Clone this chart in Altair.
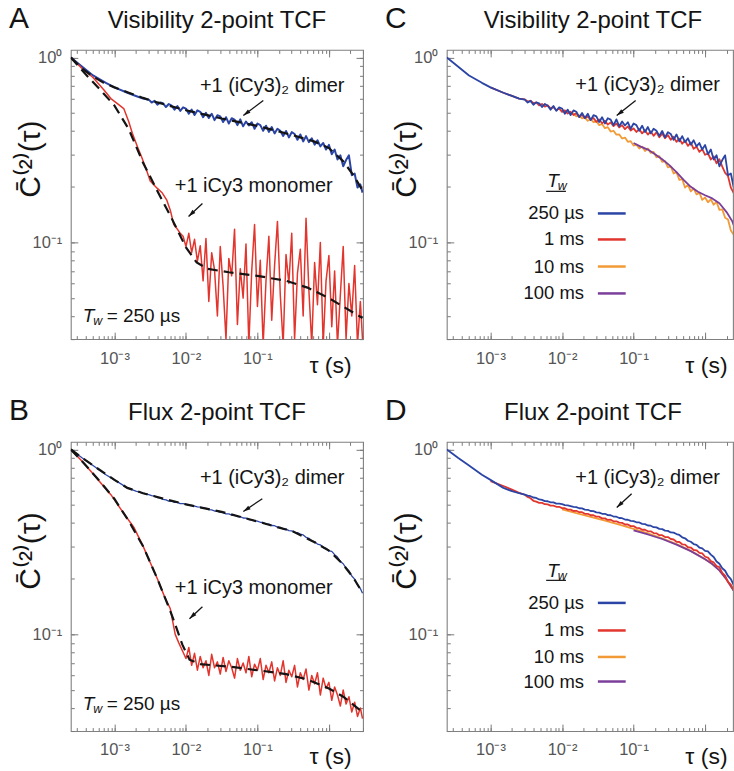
import altair as alt
import pandas as pd

FONT = "Liberation Sans"
INK = "#141414"
FRAME = "#808080"
TICK = "#7a7a7a"
LABEL = "#555555"
BLUE = "#2b45a6"
RED = "#e2352d"
ORANGE = "#f29b36"
PURPLE = "#7b3f9a"

SERIES = ["250 µs", "1 ms", "10 ms", "100 ms", "+1 (iCy3)₂ dimer", "+1 iCy3 monomer"]
SERIES_COLORS = [BLUE, RED, ORANGE, PURPLE, BLUE, RED]

X_DOMAIN_LEFT = [2.45e-4, 3.0]      # panels A, B
X_DOMAIN_RIGHT = [2.45e-4, 2.455]   # panels C, D (cut by the page edge)
Y_DOMAIN = [0.03, 1.1]
X_TICKS = [0.0003, 0.0004, 0.0005, 0.0006, 0.0007, 0.0008, 0.0009,
           0.001, 0.002, 0.003, 0.004, 0.005, 0.006, 0.007, 0.008, 0.009,
           0.01, 0.02, 0.03, 0.04, 0.05, 0.06, 0.07, 0.08, 0.09,
           0.1, 0.2, 0.3, 0.4, 0.5, 0.6, 0.7, 0.8, 0.9, 1.0, 2.0, 3.0]
X_MAJOR = [0.001, 0.01, 0.1, 1.0]
Y_TICKS = [0.03, 0.04, 0.05, 0.06, 0.07, 0.08, 0.09,
           0.1, 0.2, 0.3, 0.4, 0.5, 0.6, 0.7, 0.8, 0.9, 1.0]
Y_MAJOR = [0.1, 1.0]
X_LABELS = "datum.value == 0.001 ? '10⁻³' : datum.value == 0.01 ? '10⁻²' : datum.value == 0.1 ? '10⁻¹' : ''"
Y_LABELS = "datum.value == 1 ? '10⁰' : datum.value == 0.1 ? '10⁻¹' : ''"

# log10(tau) grid of the densely sampled part of every trace
LATE = [-2.52, -2.48, -2.44, -2.40, -2.36, -2.32, -2.28, -2.24, -2.20, -2.16,
        -2.12, -2.08, -2.04, -2.00, -1.96, -1.92, -1.88, -1.84, -1.80, -1.76,
        -1.72, -1.68, -1.64, -1.60, -1.56, -1.52, -1.48, -1.44, -1.40, -1.36,
        -1.32, -1.28, -1.24, -1.20, -1.16, -1.12, -1.08, -1.04, -1.00, -0.96,
        -0.92, -0.88, -0.84, -0.80, -0.76, -0.72, -0.68, -0.64, -0.60, -0.56,
        -0.52, -0.48, -0.44, -0.40, -0.36, -0.32, -0.28, -0.24, -0.20, -0.16,
        -0.12, -0.08, -0.04, 0.00, 0.04, 0.08, 0.12, 0.16, 0.20, 0.24,
        0.28, 0.32, 0.36, 0.40, 0.44, 0.47]

# ---------- visibility TCF, Tw = 250 us (panel A, blue also in C) ----------
VIS_DIMER_EARLY_LOG = [-3.61, -3.30, -3.12, -3.00, -2.82, -2.70, -2.60]
VIS_DIMER_EARLY = [1.00, 0.80, 0.73, 0.69, 0.645, 0.62, 0.60]
VIS_DIMER_LATE = [0.592, 0.571, 0.583, 0.556, 0.572, 0.566, 0.540, 0.561, 0.549, 0.522,
                  0.547, 0.515, 0.538, 0.530, 0.497, 0.523, 0.489, 0.518, 0.509, 0.476,
                  0.502, 0.471, 0.497, 0.459, 0.488, 0.481, 0.448, 0.476, 0.440, 0.470,
                  0.462, 0.431, 0.463, 0.425, 0.451, 0.429, 0.447, 0.412, 0.440, 0.431,
                  0.402, 0.428, 0.396, 0.421, 0.389, 0.412, 0.402, 0.377, 0.401, 0.370,
                  0.395, 0.386, 0.359, 0.384, 0.352, 0.376, 0.349, 0.366, 0.338, 0.357,
                  0.331, 0.345, 0.318, 0.337, 0.300, 0.318, 0.281, 0.296, 0.258, 0.279,
                  0.296, 0.231, 0.236, 0.198, 0.206, 0.186]
VIS_MONO_EARLY_LOG = [-3.61, -3.45, -3.30, -3.15, -3.05, -2.95, -2.87, -2.80, -2.75, -2.68,
                      -2.62, -2.55, -2.50, -2.45, -2.40, -2.33, -2.27, -2.22, -2.17, -2.12, -2.08]
VIS_MONO_EARLY = [1.00, 0.87, 0.78, 0.67, 0.60, 0.56, 0.53, 0.45, 0.39, 0.33,
                  0.29, 0.245, 0.215, 0.205, 0.196, 0.185, 0.170, 0.150, 0.125, 0.118, 0.112]
VIS_MONO_LATE = [0.108, 0.095, 0.112, 0.088, 0.104, 0.079, 0.096, 0.062, 0.105, 0.048,
                 0.088, 0.071, 0.040, 0.095, 0.058, 0.030, 0.082, 0.066, 0.118, 0.036,
                 0.072, 0.050, 0.098, 0.028, 0.070, 0.125, 0.045, 0.080, 0.028, 0.062,
                 0.108, 0.038, 0.075, 0.130, 0.052, 0.028, 0.086, 0.060, 0.112, 0.030,
                 0.068, 0.092, 0.040, 0.135, 0.055, 0.028, 0.078, 0.046, 0.100, 0.028,
                 0.062, 0.085, 0.035, 0.070, 0.028, 0.052, 0.095, 0.030, 0.060, 0.040,
                 0.075, 0.028, 0.048, 0.030]
VIS_DIMER_FIT_LOG = [-3.61, -3.45, -3.30, -3.15, -3.00, -2.80, -2.60, -2.40, -2.00, -1.50,
                     -1.00, -0.50, -0.20, 0.00, 0.20, 0.35, 0.47]
VIS_DIMER_FIT = [1.00, 0.87, 0.79, 0.73, 0.69, 0.645, 0.605, 0.572, 0.519, 0.468,
                 0.427, 0.380, 0.351, 0.324, 0.275, 0.229, 0.191]
VIS_MONO_FIT_LOG = [-3.61, -3.40, -3.20, -3.00, -2.80, -2.60, -2.40, -2.20, -2.00, -1.85,
                    -1.70, -1.40, -1.00, -0.60, -0.30, 0.00, 0.20, 0.47]
VIS_MONO_FIT = [1.00, 0.81, 0.67, 0.55, 0.41, 0.27, 0.19, 0.135, 0.094, 0.078,
                0.072, 0.069, 0.066, 0.062, 0.057, 0.050, 0.045, 0.039]

# ---------- flux TCF, Tw = 250 us (panel B, blue also in D) ----------
FLX_DIMER_EARLY_LOG = [-3.61, -3.45, -3.30, -3.12, -3.00, -2.82, -2.70, -2.60]
FLX_DIMER_EARLY = [1.00, 0.90, 0.82, 0.73, 0.685, 0.62, 0.595, 0.58]
FLX_DIMER_LATE = [0.570, 0.563, 0.559, 0.550, 0.547, 0.537, 0.534, 0.526, 0.525, 0.518,
                  0.518, 0.510, 0.509, 0.506, 0.500, 0.499, 0.494, 0.489, 0.488, 0.481,
                  0.480, 0.473, 0.472, 0.465, 0.464, 0.457, 0.456, 0.449, 0.449, 0.442,
                  0.441, 0.434, 0.433, 0.426, 0.425, 0.418, 0.417, 0.411, 0.410, 0.404,
                  0.403, 0.396, 0.395, 0.388, 0.387, 0.380, 0.379, 0.372, 0.371, 0.364,
                  0.363, 0.356, 0.355, 0.349, 0.345, 0.335, 0.331, 0.321, 0.317, 0.308,
                  0.305, 0.295, 0.292, 0.283, 0.281, 0.270, 0.262, 0.248, 0.241, 0.228,
                  0.221, 0.207, 0.199, 0.185, 0.177, 0.167]
FLX_MONO_EARLY_LOG = [-3.61, -3.45, -3.30, -3.15, -3.05, -2.95, -2.85, -2.73, -2.60, -2.50,
                      -2.40, -2.30, -2.22, -2.15, -2.10, -2.04]
FLX_MONO_EARLY = [1.00, 0.86, 0.74, 0.63, 0.57, 0.50, 0.44, 0.38, 0.30, 0.245,
                  0.200, 0.160, 0.138, 0.100, 0.090, 0.080]
FLX_MONO_LATE = [0.074, 0.085, 0.068, 0.079, 0.064, 0.076, 0.066, 0.072, 0.060, 0.078,
                 0.066, 0.071, 0.061, 0.075, 0.063, 0.072, 0.066, 0.058, 0.074, 0.064,
                 0.070, 0.062, 0.076, 0.059, 0.069, 0.064, 0.074, 0.057, 0.068, 0.062,
                 0.071, 0.056, 0.066, 0.060, 0.072, 0.055, 0.064, 0.059, 0.068, 0.052,
                 0.062, 0.057, 0.065, 0.050, 0.060, 0.054, 0.062, 0.047, 0.058, 0.051,
                 0.055, 0.044, 0.052, 0.047, 0.041, 0.050, 0.042, 0.046, 0.038, 0.043,
                 0.036, 0.040, 0.035]
FLX_DIMER_FIT_LOG = [-3.61, -3.45, -3.30, -3.15, -3.00, -2.82, -2.60, -2.30, -2.00, -1.50,
                     -1.00, -0.50, -0.20, 0.00, 0.20, 0.35, 0.47]
FLX_DIMER_FIT = [1.00, 0.90, 0.82, 0.75, 0.685, 0.62, 0.58, 0.540, 0.505, 0.460,
                 0.408, 0.360, 0.315, 0.284, 0.239, 0.200, 0.168]
FLX_MONO_FIT_LOG = [-3.61, -3.40, -3.20, -3.00, -2.80, -2.60, -2.40, -2.20, -2.05, -1.95,
                    -1.80, -1.40, -1.00, -0.60, -0.30, 0.00, 0.20, 0.47]
FLX_MONO_FIT = [1.00, 0.82, 0.67, 0.54, 0.41, 0.30, 0.20, 0.128, 0.088, 0.073,
                0.069, 0.067, 0.064, 0.061, 0.057, 0.051, 0.046, 0.038]

# ---------- panel C, other waiting times ----------
VIS_1MS_EARLY_LOG = [-3.00, -2.82, -2.70, -2.60]
VIS_1MS_EARLY = [0.69, 0.645, 0.62, 0.60]
VIS_1MS_LATE = [0.594, 0.578, 0.584, 0.566, 0.572, 0.551, 0.561, 0.543, 0.552, 0.531,
                0.541, 0.519, 0.530, 0.508, 0.518, 0.498, 0.509, 0.489, 0.500, 0.478,
                0.489, 0.470, 0.480, 0.463, 0.471, 0.449, 0.462, 0.441, 0.455, 0.434,
                0.446, 0.426, 0.440, 0.419, 0.431, 0.410, 0.424, 0.403, 0.414, 0.396,
                0.410, 0.389, 0.405, 0.383, 0.399, 0.377, 0.394, 0.371, 0.388, 0.366,
                0.381, 0.359, 0.373, 0.350, 0.364, 0.342, 0.355, 0.333, 0.347, 0.321,
                0.330, 0.309, 0.320, 0.298, 0.303, 0.281, 0.292, 0.268, 0.282, 0.257,
                0.238, 0.229, 0.198, 0.185, 0.155, 0.130]
VIS_10MS_LATE = [0.522, 0.509, 0.512, 0.496, 0.499, 0.481, 0.486, 0.469, 0.473, 0.455,
                 0.464, 0.447, 0.452, 0.431, 0.437, 0.415, 0.420, 0.398, 0.402, 0.383,
                 0.384, 0.365, 0.369, 0.350, 0.353, 0.334, 0.338, 0.322, 0.330, 0.312,
                 0.322, 0.305, 0.309, 0.289, 0.293, 0.273, 0.275, 0.255, 0.258, 0.236,
                 0.240, 0.218, 0.220, 0.198, 0.205, 0.189, 0.196, 0.182, 0.186, 0.170,
                 0.175, 0.165, 0.171, 0.160, 0.166, 0.150, 0.151, 0.136, 0.133, 0.116,
                 0.110, 0.096, 0.090]
VIS_100MS_LOG = [-1.00, -0.90, -0.80, -0.70, -0.60, -0.50, -0.40, -0.30, -0.20, -0.10,
                 0.00, 0.10, 0.20, 0.30, 0.38, 0.47]
VIS_100MS = [0.345, 0.330, 0.318, 0.300, 0.282, 0.262, 0.240, 0.218, 0.200, 0.188,
             0.180, 0.173, 0.163, 0.146, 0.130, 0.106]

# ---------- panel D, other waiting times ----------
FLX_1MS_EARLY_LOG = [-3.00, -2.82, -2.70, -2.60]
FLX_1MS_EARLY = [0.675, 0.635, 0.607, 0.583]
FLX_1MS_LATE = [0.569, 0.554, 0.545, 0.528, 0.522, 0.514, 0.514, 0.506, 0.505, 0.497,
                0.497, 0.490, 0.490, 0.482, 0.481, 0.473, 0.473, 0.465, 0.466, 0.458,
                0.458, 0.449, 0.449, 0.441, 0.441, 0.433, 0.433, 0.424, 0.424, 0.416,
                0.417, 0.409, 0.409, 0.402, 0.401, 0.393, 0.393, 0.385, 0.385, 0.377,
                0.376, 0.368, 0.368, 0.361, 0.361, 0.353, 0.352, 0.344, 0.344, 0.336,
                0.336, 0.328, 0.326, 0.317, 0.316, 0.307, 0.306, 0.296, 0.295, 0.286,
                0.285, 0.276, 0.274, 0.263, 0.260, 0.249, 0.245, 0.234, 0.231, 0.215,
                0.208, 0.192, 0.186, 0.173, 0.168, 0.160]
FLX_10MS_LOG = [-2.00, -1.80, -1.60, -1.40, -1.20, -1.00, -0.80, -0.60, -0.40, -0.20,
                0.00, 0.10, 0.20, 0.30, 0.38, 0.47]
FLX_10MS = [0.475, 0.453, 0.432, 0.412, 0.392, 0.372, 0.352, 0.331, 0.308, 0.283,
            0.255, 0.240, 0.222, 0.198, 0.177, 0.157]
FLX_100MS_LOG = [-1.00, -0.80, -0.60, -0.40, -0.20, 0.00, 0.10, 0.20, 0.30, 0.38, 0.47]
FLX_100MS = [0.365, 0.347, 0.328, 0.306, 0.282, 0.255, 0.240, 0.222, 0.198, 0.177, 0.157]

# ---------- annotations (data units) ----------
ANN_TEXT = ["+1 (iCy3)₂ dimer", "+1 iCy3 monomer"]
ANN_TAU = [0.161, 0.0889]
A_ANN_C = [0.706, 0.201]
B_ANN_C = [0.701, 0.178]
A_ARROW = {"t0": [0.1208, 0.0170], "c0": [0.586, 0.1625], "t1": [0.0635, 0.01087], "c1": [0.486, 0.1383], "ang": [233, 227]}
B_ARROW = {"t0": [0.117, 0.0170], "c0": [0.542, 0.141], "t1": [0.0635, 0.0112], "c1": [0.462, 0.1216], "ang": [236, 227]}
C_ANN_TAU, C_ANN_C = [0.157], [0.714]
D_ANN_TAU, D_ANN_C = [0.157], [0.701]
C_ARROW = {"t0": [0.107], "c0": [0.586], "t1": [0.0582], "c1": [0.486], "ang": [232]}
D_ARROW = {"t0": [0.094], "c0": [0.576], "t1": [0.0582], "c1": [0.486], "ang": [227]}
TW_TAU = 3.6e-4
A_TW_C, B_TW_C = 0.0398, 0.0419

LEG_LABELS = ["250 µs", "1 ms", "10 ms", "100 ms"]
LEG_LABEL_TAU = 0.0203
LEG_LINE_TAU = [0.0317, 0.0776]
C_LEG_C = [0.1435, 0.1038, 0.0741, 0.0530]
D_LEG_C = [0.148, 0.105, 0.0755, 0.0556]
LEG_HEAD_TAU = 0.0062
LEG_UL_TAU = [0.0060, 0.01135]
C_HEAD_C, C_UL_C = 0.214, 0.189
D_HEAD_C, D_UL_C = 0.219, 0.196

ARROW = "M0,0L0.55,1.9L-0.55,1.9Z"

YS = alt.Scale(type="log", domain=Y_DOMAIN, nice=False)
CS = alt.Scale(domain=SERIES, range=SERIES_COLORS)
MINOR_TICK = {"expr": "-3.5"}
MAJOR_TICK = {"expr": "-7"}


def curve(logtau, vals, name):
    assert len(logtau) == len(vals), (name, len(logtau), len(vals))
    return pd.DataFrame({"tau": [10.0 ** t for t in logtau], "C": vals, "series": name})


def bare_axis(orient, values, size):
    return alt.Axis(orient=orient, values=values, labels=False, tickSize=size, tickColor=TICK,
                    domain=False, grid=False, title=None)


class Panel:
    def __init__(self, domain, width):
        self.xs = alt.Scale(type="log", domain=domain, nice=False)
        self.ticks = [t for t in X_TICKS if domain[0] <= t <= domain[1]]
        self.major = [t for t in X_MAJOR if domain[0] <= t <= domain[1]]
        self.width = width

    def X(self, field, axis=None):
        return alt.X(f"{field}:Q", scale=self.xs, axis=axis)

    def Y(self, field, axis=None):
        return alt.Y(f"{field}:Q", scale=YS, axis=axis)

    def x_axis(self):
        return alt.Axis(orient="bottom", values=self.ticks, labelExpr=X_LABELS, tickSize=MINOR_TICK,
                        tickColor=TICK, domain=False, grid=False, labelFont=FONT, labelFontSize=16.5,
                        labelColor=LABEL, labelPadding=14.5, labelOverlap=False, labelFlush=False,
                        title="τ (s)", titleFont=FONT, titleFontSize=23, titleFontWeight="normal",
                        titleColor=INK, titleX=281, titleY=33, titleAlign="right",
                        titleBaseline="alphabetic")

    def y_axis(self):
        return alt.Axis(orient="left", values=Y_TICKS, labelExpr=Y_LABELS, tickSize=MINOR_TICK,
                        tickColor=TICK, domain=False, grid=False, labelFont=FONT, labelFontSize=16.5,
                        labelColor=LABEL, labelPadding=12.5, labelOverlap=False, labelFlush=False,
                        title="C̄⁽²⁾(τ)", titleFont=FONT, titleFontSize=30, titleFontWeight="normal",
                        titleColor=INK, titleX=-40, titleY=109, titleAngle=270, titleAlign="center",
                        titleBaseline="middle")

    def top_axis(self, title):
        return alt.Axis(orient="top", values=self.ticks, labels=False, tickSize=MINOR_TICK,
                        tickColor=TICK, domain=False, grid=False, title=title, titleFont=FONT,
                        titleFontSize=24, titleFontWeight="normal", titleColor=INK,
                        titleX=146, titleY=-22, titleAlign="center", titleBaseline="alphabetic")

    def line(self, df, width, main=False):
        return alt.Chart(df).mark_line(strokeWidth=width, clip=True, strokeJoin="round").encode(
            x=self.X("tau", self.x_axis() if main else None),
            y=self.Y("C", self.y_axis() if main else None),
            color=alt.Color("series:N", scale=CS, legend=None),
        )

    def fit(self, df):
        return alt.Chart(df).mark_line(color=INK, strokeWidth=2.2, strokeDash=[10, 6], clip=True).encode(
            x=self.X("tau"), y=self.Y("C"))

    def frame_ticks(self, df, title, right):
        """Mirror ticks on top/right plus the longer decade ticks on all sides."""
        base = alt.Chart(df).mark_line(opacity=0, clip=True)
        mirror = base.encode(
            x=self.X("tau", self.top_axis(title)),
            y=self.Y("C", bare_axis("right", Y_TICKS, MINOR_TICK) if right else None))
        major_bl = base.encode(
            x=self.X("tau", bare_axis("bottom", self.major, MAJOR_TICK)),
            y=self.Y("C", bare_axis("left", Y_MAJOR, MAJOR_TICK)))
        major_tr = base.encode(
            x=self.X("tau", bare_axis("top", self.major, MAJOR_TICK)),
            y=self.Y("C", bare_axis("right", Y_MAJOR, MAJOR_TICK) if right else None))
        return [mirror, major_bl, major_tr]

    def notes(self, texts, ttau, tc, arrow):
        tdf = pd.DataFrame({"tau": ttau, "C": tc, "label": texts})
        adf = pd.DataFrame(arrow)
        text = alt.Chart(tdf).mark_text(font=FONT, fontSize=20, color=INK, align="center",
                                        baseline="middle").encode(
            x=self.X("tau"), y=self.Y("C"), text="label:N")
        rule = alt.Chart(adf).mark_rule(color=INK, strokeWidth=1.3).encode(
            x=self.X("t0"), y=self.Y("c0"), x2="t1:Q", y2="c1:Q")
        head = alt.Chart(adf).mark_point(shape=ARROW, filled=True, size=60, color=INK, opacity=1).encode(
            x=self.X("t1"), y=self.Y("c1"), angle=alt.Angle("ang:Q", scale=None))
        return [rule, head, text]

    def tw_mark(self, tau, c, rest=None):
        df = pd.DataFrame({"tau": [tau], "C": [c]})
        enc = dict(x=self.X("tau"), y=self.Y("C"))
        layers = [
            alt.Chart(df).mark_text(text="T", font=FONT, fontStyle="italic", fontSize=19, color=INK,
                                    align="left", baseline="middle").encode(**enc),
            alt.Chart(df).mark_text(text="w", font=FONT, fontStyle="italic", fontSize=12.5, color=INK,
                                    align="left", baseline="middle", dx=10.5, dy=5).encode(**enc),
        ]
        if rest:
            layers.append(alt.Chart(df).mark_text(text=rest, font=FONT, fontSize=19, color=INK,
                                                  align="left", baseline="middle", dx=24).encode(**enc))
        return layers

    def legend(self, label_c, head_c, ul_c):
        ldf = pd.DataFrame({"series": LEG_LABELS, "tau": [LEG_LABEL_TAU] * 4,
                            "t0": [LEG_LINE_TAU[0]] * 4, "t1": [LEG_LINE_TAU[1]] * 4, "C": label_c})
        udf = pd.DataFrame({"t0": [LEG_UL_TAU[0]], "t1": [LEG_UL_TAU[1]], "C": [ul_c]})
        labels = alt.Chart(ldf).mark_text(font=FONT, fontSize=18.5, color=INK, align="right",
                                          baseline="middle").encode(
            x=self.X("tau"), y=self.Y("C"), text="series:N")
        swatches = alt.Chart(ldf).mark_rule(strokeWidth=2.5).encode(
            x=self.X("t0"), x2="t1:Q", y=self.Y("C"),
            color=alt.Color("series:N", scale=CS, legend=None))
        under = alt.Chart(udf).mark_rule(color=INK, strokeWidth=1.2).encode(
            x=self.X("t0"), x2="t1:Q", y=self.Y("C"))
        return self.tw_mark(LEG_HEAD_TAU, head_c) + [under, labels, swatches]

    def build(self, letter, layers):
        return alt.layer(*layers).resolve_axis(x="independent", y="independent").properties(
            width=self.width, height=290,
            title=alt.TitleParams(text=letter, anchor="start", frame="group", dx=-62, dy=25, offset=0,
                                  fontSize=30, font=FONT, fontWeight="normal", color=INK))


# ---------- data frames ----------
vis_dimer = curve(VIS_DIMER_EARLY_LOG + LATE, VIS_DIMER_EARLY + VIS_DIMER_LATE, SERIES[4])
vis_mono = curve(VIS_MONO_EARLY_LOG + LATE[12:], VIS_MONO_EARLY + VIS_MONO_LATE, SERIES[5])
flx_dimer = curve(FLX_DIMER_EARLY_LOG + LATE, FLX_DIMER_EARLY + FLX_DIMER_LATE, SERIES[4])
flx_mono = curve(FLX_MONO_EARLY_LOG + LATE[13:], FLX_MONO_EARLY + FLX_MONO_LATE, SERIES[5])
vis_250 = curve(VIS_DIMER_EARLY_LOG + LATE, VIS_DIMER_EARLY + VIS_DIMER_LATE, SERIES[0])
vis_1 = curve(VIS_1MS_EARLY_LOG + LATE, VIS_1MS_EARLY + VIS_1MS_LATE, SERIES[1])
vis_10 = curve(LATE[13:], VIS_10MS_LATE, SERIES[2])
vis_100 = curve(VIS_100MS_LOG, VIS_100MS, SERIES[3])
flx_250 = curve(FLX_DIMER_EARLY_LOG + LATE, FLX_DIMER_EARLY + FLX_DIMER_LATE, SERIES[0])
flx_1 = curve(FLX_1MS_EARLY_LOG + LATE, FLX_1MS_EARLY + FLX_1MS_LATE, SERIES[1])
flx_10 = curve(FLX_10MS_LOG, FLX_10MS, SERIES[2])
flx_100 = curve(FLX_100MS_LOG, FLX_100MS, SERIES[3])
vis_dimer_fit = curve(VIS_DIMER_FIT_LOG, VIS_DIMER_FIT, "fit")
vis_mono_fit = curve(VIS_MONO_FIT_LOG, VIS_MONO_FIT, "fit")
flx_dimer_fit = curve(FLX_DIMER_FIT_LOG, FLX_DIMER_FIT, "fit")
flx_mono_fit = curve(FLX_MONO_FIT_LOG, FLX_MONO_FIT, "fit")

L = Panel(X_DOMAIN_LEFT, 293)
R = Panel(X_DOMAIN_RIGHT, 287)

pA = L.build("A", [L.line(vis_dimer, 2.0, main=True), L.line(vis_mono, 1.5),
                   L.fit(vis_dimer_fit), L.fit(vis_mono_fit)]
             + L.frame_ticks(vis_dimer, "Visibility 2-point TCF", True)
             + L.notes(ANN_TEXT, ANN_TAU, A_ANN_C, A_ARROW) + L.tw_mark(TW_TAU, A_TW_C, "= 250 µs"))

pB = L.build("B", [L.line(flx_dimer, 1.3, main=True), L.line(flx_mono, 1.5),
                   L.fit(flx_dimer_fit), L.fit(flx_mono_fit)]
             + L.frame_ticks(flx_dimer, "Flux 2-point TCF", True)
             + L.notes(ANN_TEXT, ANN_TAU, B_ANN_C, B_ARROW) + L.tw_mark(TW_TAU, B_TW_C, "= 250 µs"))

pC = R.build("C", [R.line(vis_10, 1.8, main=True), R.line(vis_100, 1.8), R.line(vis_1, 1.8),
                   R.line(vis_250, 1.8)]
             + R.frame_ticks(vis_250, "Visibility 2-point TCF", False)
             + R.notes(ANN_TEXT[:1], C_ANN_TAU, C_ANN_C, C_ARROW) + R.legend(C_LEG_C, C_HEAD_C, C_UL_C))

pD = R.build("D", [R.line(flx_10, 1.8, main=True), R.line(flx_100, 1.8), R.line(flx_1, 1.8),
                   R.line(flx_250, 1.8)]
             + R.frame_ticks(flx_250, "Flux 2-point TCF", False)
             + R.notes(ANN_TEXT[:1], D_ANN_TAU, D_ANN_C, D_ARROW) + R.legend(D_LEG_C, D_HEAD_C, D_UL_C))

chart = alt.concat(pA, pC, pB, pD, columns=2, spacing={"row": 103, "column": 84},
                   bounds="flush").properties(
    padding={"left": 8, "top": 2, "right": 0, "bottom": 0}, background="white"
).configure_view(stroke=FRAME, strokeWidth=1.1)

chart.save("out.html", embed_options={"renderer": "svg", "actions": False})
